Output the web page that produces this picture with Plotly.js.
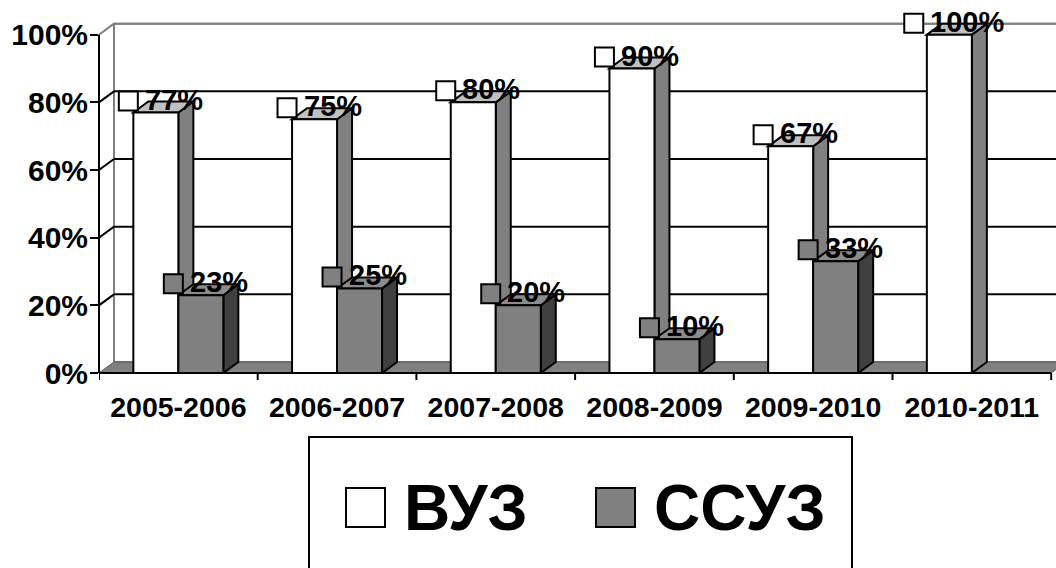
<!DOCTYPE html>
<html><head><meta charset="utf-8">
<script src="https://cdn.plot.ly/plotly-3.0.1.min.js"></script>
<style>html,body{margin:0;padding:0;background:#fff}#chart{width:1056px;height:568px}</style>
</head><body><div id="chart"></div>
<script>
// ---- data ----
const categories = ['2005-2006','2006-2007','2007-2008','2008-2009','2009-2010','2010-2011'];
const seriesNames = ['ВУЗ','ССУЗ'];
const vuzValues = [77,75,80,90,67,100];
const ssuzValues = [23,25,20,10,33,0];
const yTickValues = [0,20,40,60,80,100];

// ---- geometry / style ----
const FONT = '"Liberation Sans", Arial, sans-serif';
const W = 1056, H = 568;
const M = {l:99, r:0, t:11, b:195};
const plotW = W - M.l - M.r, plotH = H - M.t - M.b;
const catPx = 158.7;
const xRange = [-0.5, -0.5 + plotW / catPx];
const yRange = [0, 107];
const ux = (xRange[1] - xRange[0]) / plotW;   // data units per px (x)
const uy = (yRange[1] - yRange[0]) / plotH;   // data units per px (y)
const barW = 45 * ux;
const dX = 15 * ux, dY = 11 * uy;
const seriesFill = ['#ffffff', '#808080'];
const sideFill = ['#808080', '#404040'];
const topFill = ['#c0c0c0', '#8c8c8c'];
const seriesValues = [vuzValues, ssuzValues];
const xIdx = categories.map((c, i) => i);
const LABEL_SIZE = 29;

function measure(text, size) {
  const c = document.createElement('canvas').getContext('2d');
  c.font = 'bold ' + size + 'px "Liberation Sans", Arial, sans-serif';
  return c.measureText(text).width;
}
function poly(pts) {
  return 'M' + pts.map(p => p[0] + ',' + p[1]).join('L') + 'Z';
}

const shapes = [];
// back wall
const x0w = xRange[0] + dX, x1w = 5.5 + dX;
shapes.push({type:'path', layer:'below', xref:'x', yref:'y',
  path: poly([[x0w, dY],[x0w, 100 + dY],[x1w, 100 + dY],[x1w, dY]]),
  fillcolor:'#ffffff', line:{color:'#808080', width:2}});
// gridlines on the back wall and side-wall diagonals
yTickValues.forEach(v => {
  if (v === 0) return;
  const col = v === 100 ? '#808080' : '#000000';
  shapes.push({type:'line', layer:'below', xref:'x', yref:'y', x0:x0w, x1:x1w, y0:v + dY, y1:v + dY, line:{color:col, width:2}});
  shapes.push({type:'line', layer:'below', xref:'x', yref:'y', x0:xRange[0], x1:x0w, y0:v, y1:v + dY, line:{color:col, width:2}});
});
// floor
shapes.push({type:'path', layer:'below', xref:'x', yref:'y',
  path: poly([[xRange[0], 0],[5.5, 0],[x1w, dY],[x0w, dY]]),
  fillcolor:'#808080', line:{color:'#5a5a5a', width:1}});
// 3D faces of bars
xIdx.forEach(i => {
  seriesValues.forEach((vals, s) => {
    const v = vals[i];
    if (!(v > 0)) return;
    const xl = s === 0 ? i - barW : i;
    const xr = xl + barW;
    shapes.push({type:'path', layer:'below', xref:'x', yref:'y',
      path: poly([[xr, 0],[xr, v],[xr + dX, v + dY],[xr + dX, dY]]),
      fillcolor: sideFill[s], line:{color:'#000', width:2}});
    shapes.push({type:'path', layer:'below', xref:'x', yref:'y',
      path: poly([[xl, v],[xr, v],[xr + dX, v + dY],[xl + dX, v + dY]]),
      fillcolor: topFill[s], line:{color:'#000', width:2}});
  });
});
// front value axis line
shapes.push({type:'line', xref:'paper', yref:'y', x0:0, x1:0, y0:0, y1:100, line:{color:'#000', width:2}});
// category axis line + boundary ticks
shapes.push({type:'line', xref:'x', yref:'paper', x0:xRange[0], x1:5.5, y0:0, y1:0, line:{color:'#000', width:2}});
for (let k = 0; k <= categories.length; k++) {
  shapes.push({type:'line', xref:'x', yref:'paper', x0:k - 0.5, x1:k - 0.5, y0:0, y1:-7 / plotH, line:{color:'#000', width:2}});
}

// data labels (legend key + value)
const annotations = [];
xIdx.forEach(i => {
  seriesValues.forEach((vals, s) => {
    const v = vals[i];
    if (!(v > 0)) return;
    const cx = s === 0 ? i - barW / 2 : i + barW / 2;
    const txt = v + '%';
    const tw = measure(txt, LABEL_SIZE);
    const gw = 19 + 5 + tw;
    const left = 4 - gw / 2;
    shapes.push({type:'rect', layer:'above', xref:'x', yref:'y',
      xsizemode:'pixel', xanchor:cx, x0:left, x1:left + 19,
      ysizemode:'pixel', yanchor:v, y0:2, y1:21,
      fillcolor: seriesFill[s], line:{color:'#000', width:2}});
    annotations.push({x:cx, y:v, xref:'x', yref:'y', text:txt, showarrow:false,
      xanchor:'left', yanchor:'middle', xshift:left + 24, yshift:13,
      font:{family:FONT, size:LABEL_SIZE, weight:700, color:'#000'}});
  });
});

// legend (drawn manually to match the large keys)
const px2paperX = px => (px - M.l) / plotW;
const px2paperY = py => (H - M.b - py) / plotH;
shapes.push({type:'rect', xref:'paper', yref:'paper',
  x0:px2paperX(309), x1:px2paperX(852), y0:px2paperY(437), y1:px2paperY(620),
  fillcolor:'rgba(0,0,0,0)', line:{color:'#000', width:2}});
const legendX = [346, 596];
seriesNames.forEach((name, s) => {
  shapes.push({type:'rect', xref:'paper', yref:'paper',
    x0:px2paperX(legendX[s]), x1:px2paperX(legendX[s] + 39), y0:px2paperY(488), y1:px2paperY(527),
    fillcolor:seriesFill[s], line:{color:'#000', width:2}});
  annotations.push({xref:'paper', yref:'paper', x:px2paperX(legendX[s] + 56), y:px2paperY(508),
    xanchor:'left', yanchor:'middle', showarrow:false, text:name,
    font:{family:FONT, size:64, weight:700, color:'#000'}});
});

const traces = seriesValues.map((vals, s) => ({
  type:'bar', name:seriesNames[s], x:xIdx, y:vals,
  offset: s === 0 ? -barW : 0, width: barW,
  marker:{color:seriesFill[s], line:{color:'#000', width:2}},
  hoverinfo:'skip', showlegend:false
}));

const layout = {
  width:W, height:H, margin:M, showlegend:false,
  paper_bgcolor:'#fff', plot_bgcolor:'rgba(0,0,0,0)',
  barmode:'overlay',
  xaxis:{range:xRange, tickvals:xIdx, ticktext:categories, showgrid:false, zeroline:false, showline:false,
    ticks:'outside', ticklen:9, tickcolor:'rgba(0,0,0,0)', fixedrange:true,
    tickfont:{family:FONT, size:28.5, weight:700, color:'#000'}},
  yaxis:{range:yRange, tickvals:yTickValues, ticktext:yTickValues.map(v => v + '%'), showgrid:false, zeroline:false, showline:false,
    ticks:'outside', ticklen:8, tickwidth:2, tickcolor:'#000', fixedrange:true, ticklabelstandoff:-4,
    tickfont:{family:FONT, size:30, weight:700, color:'#000'}},
  shapes:shapes, annotations:annotations
};
Plotly.newPlot('chart', traces, layout, {staticPlot:true, displayModeBar:false});
</script></body></html>
